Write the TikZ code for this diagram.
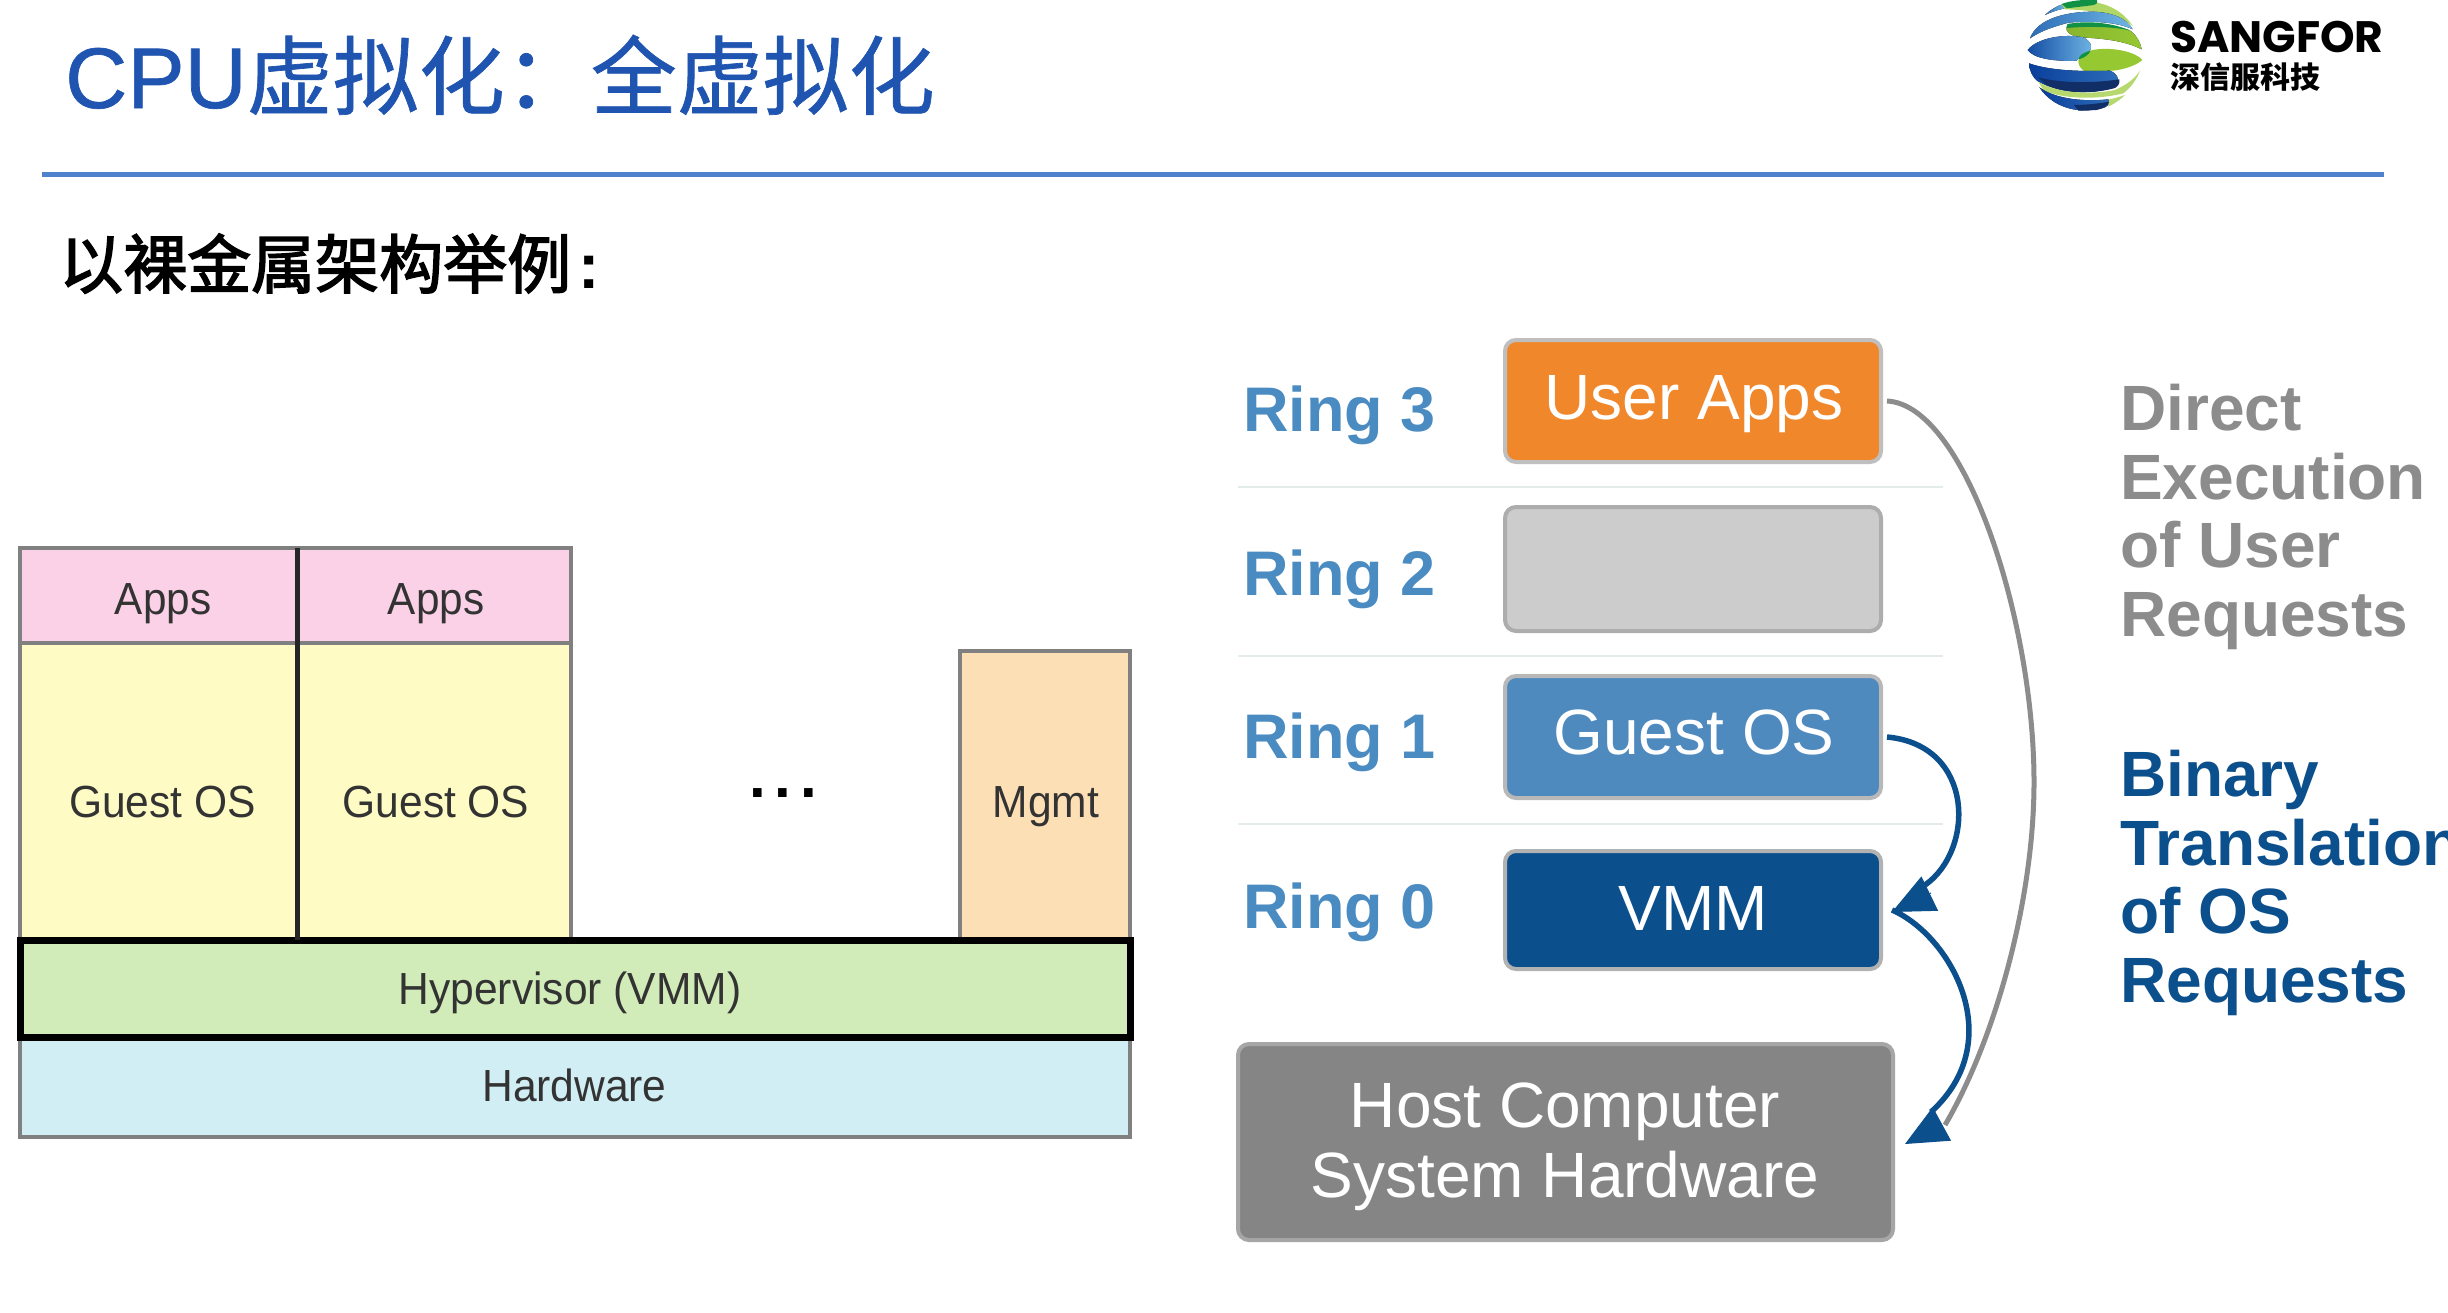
\documentclass[tikz,border=0pt]{standalone}
\usepackage{fontspec}
\usetikzlibrary{arrows.meta}
\setmainfont{Liberation Sans}
\newfontfamily\cjk{Noto Sans CJK SC}
\newfontfamily\cjkt[FakeBold=0.8]{Noto Sans CJK SC}
\newfontfamily\cjks[FakeBold=2.4]{Noto Sans CJK SC}
\newfontfamily\lat[FakeBold=0.8]{Liberation Sans}
\newfontfamily\pop{Poppins}
\definecolor{titleblue}{HTML}{1F55B0}
\definecolor{rulecol}{HTML}{4F81CD}
\definecolor{edgegray}{HTML}{808080}
\definecolor{ringblue}{HTML}{4A8BC2}
\definecolor{navy}{HTML}{0B4F8C}
\definecolor{txtgray}{HTML}{8C8C8C}
\definecolor{lgreen}{HTML}{96C832}
\definecolor{dgreen}{HTML}{119146}
\definecolor{lblue}{HTML}{6FB6E4}
\definecolor{mblue}{HTML}{2D6DB8}
\definecolor{dblue}{HTML}{0A3F9C}
\definecolor{dnavy}{HTML}{122E66}
\definecolor{fillapps}{HTML}{FAD1E6}
\definecolor{fillguest}{HTML}{FEFBC4}
\definecolor{fillmgmt}{HTML}{FDDFB6}
\definecolor{fillhyp}{HTML}{D1EBB9}
\definecolor{fillhw}{HTML}{D1EEF4}
\definecolor{sepcol}{HTML}{E3EBEB}
\definecolor{rorange}{HTML}{F0872B}
\definecolor{rguest}{HTML}{4F8ABF}
\newcommand{\fs}[2]{\fontsize{#1}{#2}\selectfont}
\newcommand{\nar}[1]{\scalebox{.945}[1]{#1}}
\tikzset{
 x=1pt,y=-1pt,
 lbox/.style={draw=edgegray,line width=4pt,inner sep=0pt,outer sep=0pt},
 ltext/.style={font=\fs{45}{50},text=black!80,inner sep=0pt,anchor=base},
 rbox/.style={rounded corners=11pt,line width=4pt,inner sep=0pt,outer sep=0pt},
 boxtext/.style={font=\fs{64}{69},text=white,inner sep=0pt,anchor=base},
 ringlab/.style={font=\fs{63}{66}\bfseries,text=ringblue,inner sep=0pt,anchor=base west},
 sep/.style={draw=sepcol,line width=2.5pt},
 notes/.style={font=\fs{64}{68.6}\bfseries,inner sep=0pt,align=left,anchor=north west},
 curvegray/.style={draw=txtgray,line width=5pt},
 curveblue/.style={draw=navy,line width=5.5pt},
 headblue/.style={draw=navy,line width=1pt,-{Triangle[length=42pt,width=38pt]}},
}
\begin{document}
\begin{tikzpicture}
\useasboundingbox (0,0) rectangle (2448,1312);
\fill[white] (0,0) rectangle (2448,1312);
% header
\node[anchor=base west,inner sep=0pt,text=titleblue,font=\fs{86}{90}] (title) at (65,108) {{\lat CPU}{\cjkt 虚拟化：全虚拟化}};
\draw[rulecol,line width=5pt] (42,174) -- (2384,174);
\node[anchor=base west,inner sep=0pt,font=\fs{64}{70}] (sub) at (59,288) {{\cjks 以裸金属架构举例}\kern7pt\textbf{:}};
% logo
\begin{scope}[shift={(1950,0)},x=.3333pt,y=-.3333pt]
\fill[left color=mblue,right color=lblue] (285,45) .. controls (300,30) and (320,18) .. (340,12) -- (345,25) .. controls (320,30) and (300,38) .. cycle;
\fill[lgreen!75!white] (335,14) .. controls (380,-2) and (490,-10) .. (548,78) .. controls (500,40) and (420,30) .. (345,28) -- cycle;
\fill[dgreen] (335,12) .. controls (360,2) and (400,-2) .. (440,0) .. controls (445,8) and (440,14) .. (425,16) -- (350,25) -- cycle;
\fill[left color=mblue,right color=lblue] (240,115) .. controls (262,55) and (350,35) .. (430,35) .. controls (490,38) and (530,55) .. (548,88) .. controls (500,65) and (420,62) .. (355,68) .. controls (320,78) and (280,88) .. cycle;
\fill[left color=lgreen!90!black,right color=lgreen] (350,80) .. controls (420,60) and (500,75) .. (545,95) .. controls (562,110) and (572,130) .. (575,148) .. controls (530,125) and (470,115) .. (385,112) .. controls (360,105) and (345,95) .. cycle;
\fill[dgreen] (352,72) .. controls (420,60) and (490,70) .. (543,92) .. controls (490,80) and (420,78) .. (350,84) -- cycle;
\fill[left color=dblue!70!mblue,right color=lblue] (233,150) .. controls (260,115) and (340,100) .. (400,112) .. controls (425,125) and (430,145) .. (415,158) .. controls (395,170) and (385,175) .. (380,182) .. controls (310,185) and (250,175) .. cycle;
\fill[lgreen] (385,182) .. controls (395,150) and (440,145) .. (480,147) .. controls (530,150) and (565,165) .. (577,180) .. controls (555,200) and (510,210) .. (490,212) -- (405,215) .. controls (390,205) and (385,195) .. cycle;
\fill[dgreen] (387,172) .. controls (395,160) and (410,155) .. (422,152) .. controls (415,165) and (405,172) .. (387,178) -- cycle;
\fill[left color=dblue,right color=mblue] (237,190) .. controls (300,212) and (390,215) .. (480,212) .. controls (505,222) and (512,245) .. (495,262) .. controls (420,285) and (330,280) .. (265,245) .. controls (245,230) and (238,210) .. cycle;
\fill[dnavy] (265,232) .. controls (330,250) and (430,250) .. (508,238) .. controls (510,250) and (505,258) .. (495,264) .. controls (420,285) and (330,280) .. (285,252) -- cycle;
\fill[lgreen!70!white] (265,245) .. controls (320,280) and (420,285) .. (495,270) .. controls (530,255) and (555,235) .. (570,212) .. controls (560,240) and (540,265) .. (520,280) .. controls (450,298) and (340,300) .. (280,270) -- cycle;
\fill[left color=dblue,right color=mblue] (268,262) .. controls (320,300) and (410,305) .. (475,298) .. controls (482,305) and (478,315) .. (465,322) .. controls (390,345) and (310,325) .. cycle;
\fill[dnavy] (372,315) .. controls (410,315) and (450,310) .. (478,305) .. controls (475,318) and (460,325) .. (440,330) -- (385,332) -- cycle;
\fill[lgreen!70!white] (478,298) .. controls (495,295) and (510,290) .. (525,285) .. controls (510,300) and (495,310) .. (475,320) -- cycle;
\end{scope}
\node[anchor=base west,inner sep=0pt,font=\fs{44}{48}\pop\bfseries] (sf) at (2170,52) {SANGFOR};
\node[anchor=base west,inner sep=0pt,font=\fs{30}{34}\cjk\bfseries] (sfc) at (2170,88) {深信服科技};
% left diagram
\node[lbox,fill=fillapps,minimum width=277pt,minimum height=95pt] (a1) at (158.5,595.5) {};
\node[lbox,fill=fillapps,minimum width=274pt,minimum height=95pt] (a2) at (434,595.5) {};
\node[lbox,fill=fillguest,minimum width=277pt,minimum height=297pt] (g1) at (158.5,791.5) {};
\node[lbox,fill=fillguest,minimum width=274pt,minimum height=297pt] (g2) at (434,791.5) {};
\node[lbox,fill=fillmgmt,minimum width=170pt,minimum height=289pt] (m) at (1045,795.5) {};
\node[lbox,fill=fillhw,minimum width=1110pt,minimum height=100pt] (hw) at (575,1087) {};
\node[lbox,draw=black,line width=7pt,fill=fillhyp,minimum width=1110pt,minimum height=97pt] (hy) at (575,988.5) {};
\draw[black!85,line width=5pt] (a2.north west) -- (g2.south west);
\node[ltext] at (163,614) {\scalebox{.94}[1]{Apps}};
\node[ltext] at (436,614) {\scalebox{.94}[1]{Apps}};
\node[ltext] at (162.5,817) {\nar{Guest OS}};
\node[ltext] at (436,817) {\nar{Guest OS}};
\node[ltext] at (1046,817) {\nar{Mgmt}};
\node[ltext] at (570,1004) {\nar{Hypervisor (VMM)}};
\node[ltext] at (574.5,1101) {\nar{Hardware}};
\node[ltext,font=\fs{60}{64}\bfseries,text=black] at (783,797) {.\kern9pt.\kern9pt.};
% right diagram
\draw[sep] (1238,487) -- (1943,487);
\draw[sep] (1238,656) -- (1943,656);
\draw[sep] (1238,824) -- (1943,824);
\node[rbox,draw=black!25,fill=rorange,minimum width=376pt,minimum height=122pt] (ua) at (1693,401) {};
\node[rbox,draw=black!32,fill=black!20,minimum width=376pt,minimum height=124pt] (r2) at (1693,569) {};
\node[rbox,draw=black!28,fill=rguest,minimum width=376pt,minimum height=122pt] (go) at (1693,737) {};
\node[rbox,draw=black!30,fill=navy,minimum width=376pt,minimum height=118pt] (vm) at (1693,910) {};
\node[rbox,draw=black!35,fill=black!48,minimum width=655pt,minimum height=196pt] (ho) at (1565.5,1142) {};
\node[boxtext] at (1694,419) {User Apps};
\node[boxtext] at (1694,754) {Guest OS};
\node[boxtext] at (1693,930) {VMM};
\node[boxtext] at (1565,1127) {Host Computer};
\node[boxtext] at (1565,1197) {System Hardware};
\node[ringlab] at (1243,431) {Ring 3};
\node[ringlab] at (1243,595) {Ring 2};
\node[ringlab] at (1243,758) {Ring 1};
\node[ringlab] at (1243,928) {Ring 0};
\node[notes,text=txtgray] at (2120,384) {Direct\\Execution\\of User\\Requests};
\node[notes,text=navy] at (2120,750) {Binary\\Translation\\of OS\\Requests};
% connectors
\draw[curvegray] ([xshift=6pt]ua.east) .. controls (1965,405) and (2034,620) .. (2034,782) .. controls (2034,900) and (1995,1040) .. ([xshift=52pt,yshift=17pt]ho.east);
\draw[curveblue] ([xshift=6pt]go.east) .. controls (1975,745) and (1975,850) .. ([xshift=44pt,yshift=25pt]vm.east);
\draw[curveblue] ([xshift=11pt]vm.east) .. controls (1950,935) and (2010,1040) .. ([xshift=38pt,yshift=30pt]ho.east);
\draw[headblue] ([xshift=50pt,yshift=17pt]vm.east) -- ([xshift=11pt,yshift=-2pt]vm.east);
\draw[headblue] ([xshift=45pt,yshift=16pt]ho.east) -- ([xshift=12pt,yshift=-2pt]ho.east);
\end{tikzpicture}
\end{document}
